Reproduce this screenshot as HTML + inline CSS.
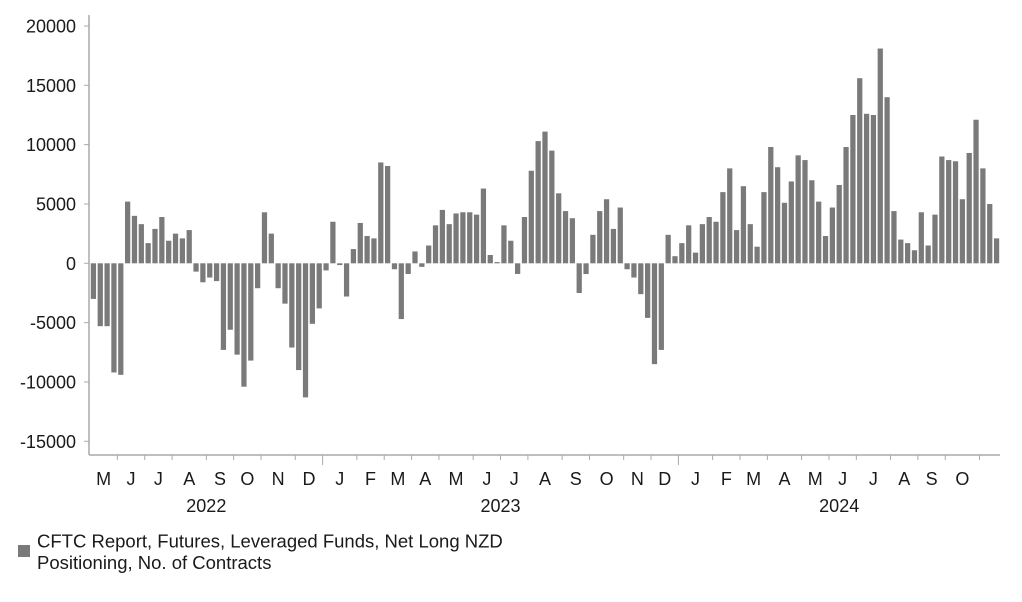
<!DOCTYPE html>
<html><head><meta charset="utf-8"><style>
body{margin:0;background:#fff;font-family:"Liberation Sans",Arial,sans-serif}
svg text{font-family:"Liberation Sans",Arial,sans-serif;fill:#1a1a1a}
</style></head><body>
<svg id="chart" width="1022" height="597" viewBox="0 0 1022 597">
<g id="yaxis"></g>
<g id="bars"></g>
<g id="xaxis"></g>
<g>
<rect x="18" y="545" width="12" height="12" fill="#7a7a7a"/>
<text x="37" y="547.5" font-size="18.5">CFTC Report, Futures, Leveraged Funds, Net Long NZD</text>
<text x="37" y="569" font-size="18.5">Positioning, No. of Contracts</text>
</g>
</svg>
<script>
const startDate = "2022-05-10";
const values = [-3000,-5300,-5300,-9200,-9400,5200,4000,3300,1700,2900,3900,1900,2500,2100,2800,-700,-1600,-1200,-1500,-7300,-5600,-7700,-10400,-8200,-2100,4300,2500,-2100,-3400,-7100,-9000,-11300,-5100,-3800,
-600,3500,-150,-2800,1200,3400,2300,2100,8500,8200,-500,-4700,-900,1000,-300,1500,3200,4500,3300,4200,4300,4300,4100,6300,700,100,3200,1900,-900,3900,7800,10300,11100,9500,
5900,4400,3800,-2500,-900,2400,4400,5400,2900,4700,-500,-1200,-2600,-4600,-8500,-7300,2400,600,1700,3200,900,3300,3900,3500,6000,8000,2800,6500,3300,1400,6000,9800,
8100,5100,6900,9100,8700,7000,5200,2300,4700,6600,9800,12500,15600,12600,12500,18100,14000,4400,2000,1700,1100,4300,1500,4100,9000,8700,8600,5400,9300,12100,8000,5000,2100];
const yTicks = [-15000,-10000,-5000,0,5000,10000,15000,20000];
const monthNames = ["J","F","M","A","M","J","J","A","S","O","N","D"];

const NS="http://www.w3.org/2000/svg";
const x0=90, x1=1000, yTop=15, yBot=455, pitch=(x1-x0)/values.length;
function yScale(v){return 263.3 - v*(237.3/20000);}
function xBar(i){return x0 + pitch*i;}
function mk(tag,attrs,parent){const e=document.createElementNS(NS,tag);for(const k in attrs)e.setAttribute(k,attrs[k]);parent.appendChild(e);return e;}
const yg=document.getElementById('yaxis'), bg=document.getElementById('bars'), xg=document.getElementById('xaxis');
let l=mk('line',{x1:x0-1,x2:x0-1,y1:yTop,y2:yBot,stroke:'#aaa','stroke-width':1.5},yg);


yTicks.forEach(t=>{
  const y=yScale(t);
  const tk=mk('line',{x1:x0-6,x2:x0-1,y1:y,y2:y,stroke:'#aaa'},yg);
  
  
  const tx=mk('text',{x:x0-14,y:y+6.5,'font-size':18,'text-anchor':'end'},yg);
  tx.textContent=t;
  
  
});
values.forEach((v,i)=>{
  const y=yScale(v), y0=yScale(0);
  const r=mk('rect',{x:xBar(i)+0.8,y:Math.min(y,y0),width:pitch-1.6,height:Math.max(1,Math.abs(y0-y)),fill:'#7a7a7a'},bg);
  
  
});
let bl=mk('line',{x1:x0-1,x2:x1,y1:yBot,y2:yBot,stroke:'#aaa','stroke-width':1.5},xg);


const sd=new Date(startDate+"T00:00:00Z");
const months=[];
values.forEach((v,i)=>{
  const d=new Date(sd.getTime()+i*7*86400000);
  const key=d.getUTCFullYear()*12+d.getUTCMonth();
  const last=months[months.length-1];
  if(!last||last.key!==key)months.push({key,start:i,count:1,m:d.getUTCMonth(),y:d.getUTCFullYear()});
  else last.count++;
});
const years={};
months.forEach((mo,k)=>{
  const xs=xBar(mo.start), xe=xBar(mo.start+mo.count);
  if(k>0){
    const big=mo.m===0;
    const t=mk('line',{x1:xs,x2:xs,y1:yBot,y2:yBot+(big?10:5),stroke:'#aaa'},xg);
    
    
  }
  if(mo.count>=4){
    const tx=mk('text',{x:(xs+xe)/2,y:485,'font-size':18,'text-anchor':'middle'},xg);
    tx.textContent=monthNames[mo.m];
    
    
  }
  if(!years[mo.y])years[mo.y]={s:xs,e:xe};else years[mo.y].e=xe;
});
Object.keys(years).forEach(y=>{
  const r=years[y];
  const tx=mk('text',{x:(Math.max(r.s,x0)+Math.min(r.e,x1))/2,y:512,'font-size':18,'text-anchor':'middle'},xg);
  tx.textContent=y;
  
  
});
</script>
</body></html>
